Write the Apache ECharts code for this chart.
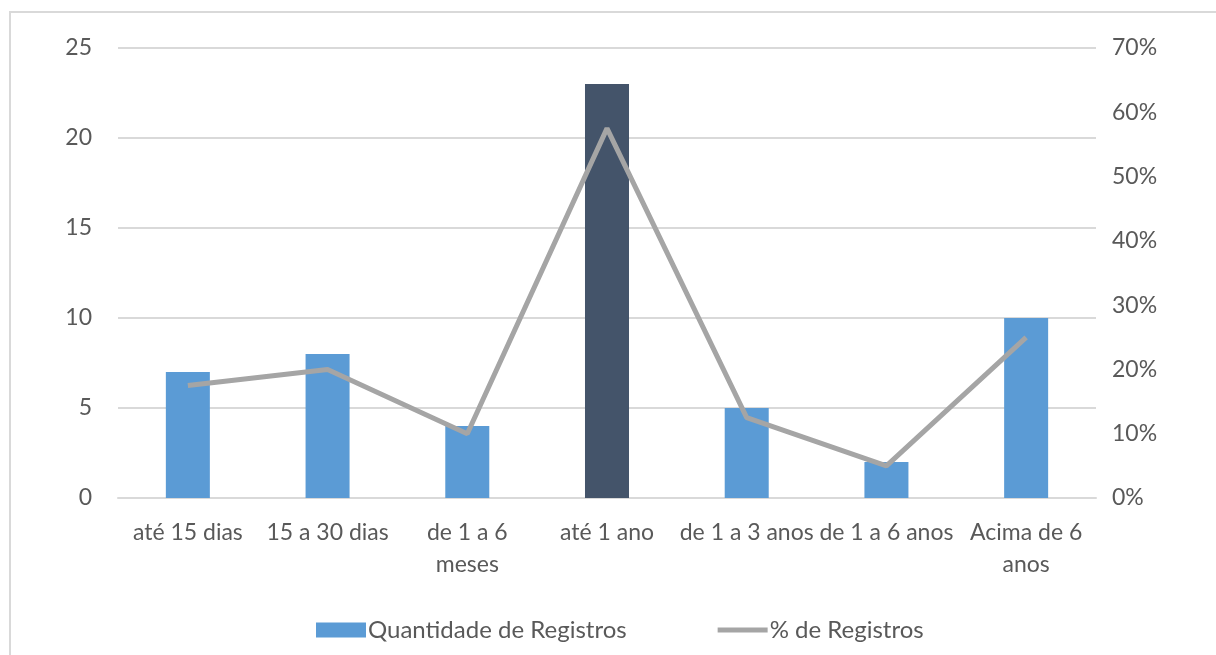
<!DOCTYPE html>
<html><head><meta charset="utf-8">
<script src="https://cdn.jsdelivr.net/npm/echarts@6/dist/echarts.min.js"></script>
<style>html,body{margin:0;padding:0;background:#fff}#c{width:1216px;height:655px}</style>
</head><body><div id="c"></div>
<script>
var categories = ['até 15 dias', '15 a 30 dias', 'de 1 a 6\nmeses', 'até 1 ano', 'de 1 a 3 anos', 'de 1 a 6 anos', 'Acima de 6\nanos'];
var quantidade = [7, 8, 4, 23, 5, 2, 10];
var percentual = [17.5, 20, 10, 57.5, 12.5, 5, 25];
var highlightIndex = 3;

var FONT = 'Lato, "Open Sans", sans-serif';
var FS = 23;
var chart = echarts.init(document.getElementById('c'), null, {renderer: 'canvas'});
chart.setOption({
  animation: false,
  textStyle: {fontFamily: FONT},
  graphic: [{
    type: 'rect', silent: true,
    shape: {x: 10, y: 12, width: 1300, height: 700},
    style: {fill: 'none', stroke: '#d9d9d9', lineWidth: 2}
  }],
  grid: {left: 118, right: 120, top: 48, bottom: 157},
  legend: {
    top: 618, left: 316, itemWidth: 50, itemHeight: 15, itemGap: 91,
    padding: 0,
    textStyle: {fontFamily: FONT, fontSize: 24, color: '#595959', padding: [0, 0, 0, -3]},
    data: [
      {name: 'Quantidade de Registros', icon: 'rect'},
      {name: '% de Registros', icon: 'path://M0,0 L10,0 L10,1 L0,1 Z'}
    ]
  },
  xAxis: {
    type: 'category', data: categories,
    axisLine: {lineStyle: {color: '#d9d9d9', width: 2}},
    axisTick: {show: false},
    axisLabel: {color: '#595959', fontSize: FS, margin: 19, lineHeight: 32, interval: 0}
  },
  yAxis: [{
    type: 'value', min: 0, max: 25, interval: 5,
    axisLine: {show: false}, axisTick: {show: false},
    splitLine: {lineStyle: {color: '#d9d9d9', width: 2}},
    axisLabel: {color: '#595959', fontSize: FS, margin: 26}
  }, {
    type: 'value', min: 0, max: 70, interval: 10,
    axisLine: {show: false}, axisTick: {show: false},
    splitLine: {show: false},
    axisLabel: {color: '#595959', fontSize: FS, margin: 16, formatter: '{value}%'}
  }],
  series: [{
    name: 'Quantidade de Registros', type: 'bar', barWidth: '31.5%',
    itemStyle: {color: '#5B9BD5'},
    data: quantidade.map(function (v, i) {
      return i === highlightIndex ? {value: v, itemStyle: {color: '#44546A'}} : v;
    })
  }, {
    name: '% de Registros', type: 'line', yAxisIndex: 1, showSymbol: false, symbol: 'none',
    lineStyle: {color: '#A5A5A5', width: 5},
    itemStyle: {color: '#A5A5A5'},
    data: percentual
  }]
});
</script></body></html>
